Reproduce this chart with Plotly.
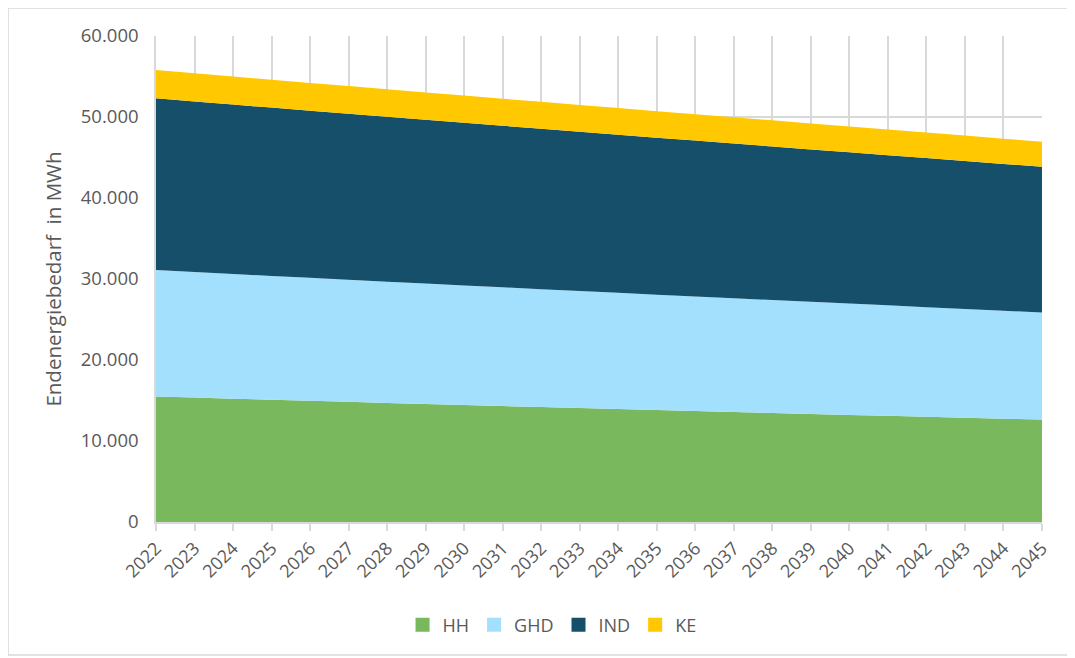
import plotly.graph_objects as go

years = list(range(2022, 2046))
hh = [15500, 15365, 15231, 15098, 14966, 14835, 14705, 14576, 14448, 14321, 14195, 14070,
      13946, 13823, 13701, 13580, 13460, 13341, 13223, 13106, 12990, 12875, 12761, 12648]
ghd = [15600, 15490, 15385, 15280, 15175, 15070, 14965, 14860, 14760, 14655, 14555, 14450,
       14350, 14245, 14145, 14040, 13940, 13840, 13740, 13640, 13535, 13430, 13320, 13210]
ind = [21200, 21060, 20920, 20780, 20640, 20500, 20360, 20220, 20080, 19940, 19800, 19660,
       19520, 19380, 19240, 19100, 18960, 18820, 18680, 18540, 18400, 18260, 18120, 18000]
ke = [3500, 3480, 3460, 3445, 3425, 3410, 3390, 3375, 3355, 3340, 3320, 3305,
      3290, 3270, 3255, 3240, 3225, 3205, 3190, 3175, 3160, 3140, 3120, 3100]

series = [("HH", hh, "#79B85C"), ("GHD", ghd, "#A3E0FD"),
          ("IND", ind, "#154F6A"), ("KE", ke, "#FFC800")]

FONT = "Open Sans"
TXT = "#595959"
GRID = "#D9D9D9"

fig = go.Figure()
for name, vals, col in series:
    fig.add_trace(go.Scatter(x=years, y=vals, name=name, stackgroup="one",
                             mode="none", fillcolor=col, showlegend=False,
                             hoverinfo="x+y+name"))
for name, vals, col in series:
    fig.add_trace(go.Scatter(x=[None], y=[None], name=name, mode="markers",
                             marker=dict(symbol="square", size=14, color=col),
                             showlegend=True))

fig.update_layout(
    width=1075, height=658,
    margin=dict(l=148, r=41, t=28, b=144),
    paper_bgcolor="white", plot_bgcolor="white",
    separators=",.",
    font=dict(family=FONT, color=TXT, size=17),
    legend=dict(orientation="h", traceorder="normal",
                x=0.447, xanchor="center", y=-0.212, yanchor="middle",
                font=dict(size=18, color=TXT), itemwidth=30, tracegroupgap=0),
    shapes=[dict(type="rect", xref="paper", yref="paper",
                 x0=-0.167, x1=1.0293, y0=-0.2737, y1=1.0576,
                 line=dict(color=GRID, width=1.5), layer="below")],
)
fig.update_xaxes(range=[2022, 2045], tickmode="linear", dtick=1, tick0=2022,
                 tickangle=-45, showgrid=True, gridcolor=GRID, gridwidth=1.5,
                 showline=True, linecolor=GRID, linewidth=1.5,
                 ticks="outside", ticklen=7, tickcolor=GRID, tickwidth=1.5,
                 tickfont=dict(size=18, color=TXT), zeroline=False)
fig.update_yaxes(range=[0, 60000], dtick=10000, tickformat=",d",
                 showgrid=True, gridcolor=GRID, gridwidth=1.5,
                 showline=True, linecolor=GRID, linewidth=1.5, zeroline=False,
                 tickfont=dict(size=18.5, color=TXT), ticklabelstandoff=12,
                 title=dict(text="Endenergiebedarf  in MWh", font=dict(size=20.5, color=TXT),
                            standoff=14))

fig.write_html("out.html")
